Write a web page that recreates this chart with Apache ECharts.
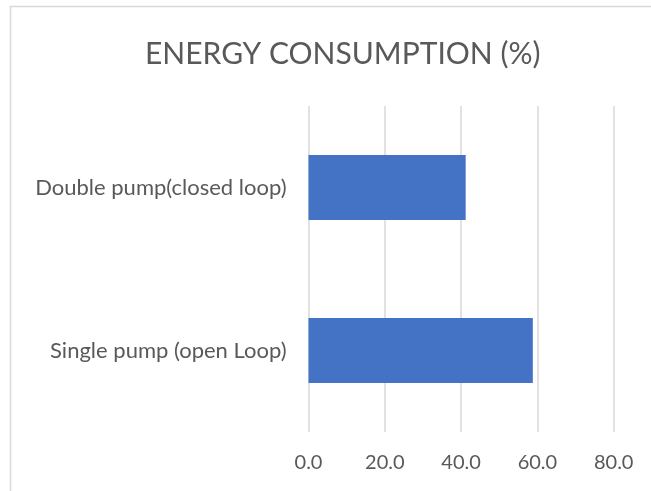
<!DOCTYPE html>
<html>
<head>
<meta charset="utf-8">
<script src="https://cdn.jsdelivr.net/npm/echarts@6/dist/echarts.min.js"></script>
<style>
  html, body { margin: 0; padding: 0; background: #fff; }
  #chart { width: 651px; height: 491px; }
</style>
</head>
<body>
<div id="chart"></div>
<script>
// Pump configurations, listed bottom to top
const categories = ['Single pump (open Loop)', 'Double pump(closed loop)'];
// Share of energy consumption (%)
const consumption = [58.8, 41.2];
// Value axis range and step
const axisMin = 0;
const axisMax = 80;
const axisStep = 20;

const textColor = '#595959';
const gridColor = '#d9d9d9';
const fontFamily = 'Lato, "Open Sans", sans-serif';

const chart = echarts.init(document.getElementById('chart'));
chart.setOption({
  animation: false,
  backgroundColor: '#fff',
  graphic: [{
    type: 'rect',
    shape: { x: 10.5, y: 6.5, width: 700, height: 600 },
    style: { fill: 'none', stroke: gridColor, lineWidth: 1.5 },
    silent: true,
    z: -1
  }],
  title: {
    text: 'ENERGY CONSUMPTION (%)',
    left: 140,
    top: 34,
    textStyle: {
      color: textColor,
      fontFamily: fontFamily,
      fontWeight: 'normal',
      fontSize: 30
    }
  },
  grid: { left: 308.5, right: 37.3, top: 106, bottom: 59, containLabel: false },
  xAxis: {
    type: 'value',
    min: axisMin,
    max: axisMax,
    interval: axisStep,
    axisLine: { show: false },
    axisTick: { show: false },
    splitLine: { show: true, lineStyle: { color: gridColor, width: 1.5 } },
    axisLabel: {
      color: textColor,
      fontFamily: fontFamily,
      fontSize: 20,
      margin: 21,
      formatter: v => v.toFixed(1)
    }
  },
  yAxis: {
    type: 'category',
    data: categories,
    axisLine: { show: false },
    axisTick: { show: false },
    axisLabel: {
      color: textColor,
      fontFamily: fontFamily,
      fontSize: 22,
      margin: 22
    }
  },
  series: [{
    type: 'bar',
    data: consumption,
    barCategoryGap: '60%',
    itemStyle: { color: '#4472c4' }
  }]
});
</script>
</body>
</html>
